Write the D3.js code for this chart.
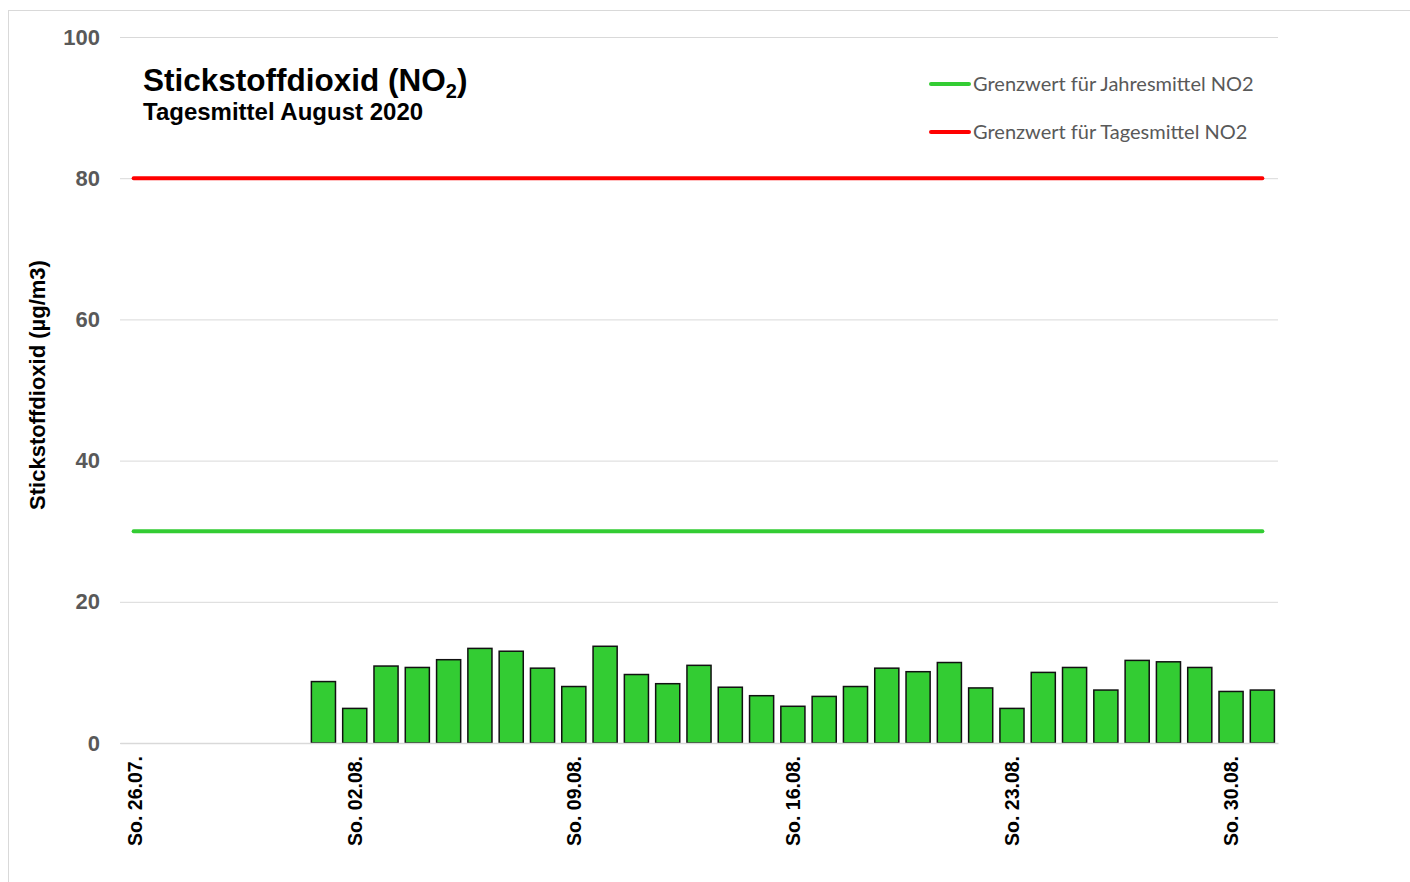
<!DOCTYPE html>
<html>
<head>
<meta charset="utf-8">
<script src="https://cdn.jsdelivr.net/npm/d3@7"></script>
<style>
  body { margin: 0; background: #fff; }
  svg { display: block; }
</style>
</head>
<body>
<svg id="chart" width="1410" height="882"></svg>
<script>
// days shown on the x axis (26.07. - 31.08.)
const days = ['26.07.', '27.07.', '28.07.', '29.07.', '30.07.', '31.07.',
  '01.08.', '02.08.', '03.08.', '04.08.', '05.08.', '06.08.', '07.08.', '08.08.',
  '09.08.', '10.08.', '11.08.', '12.08.', '13.08.', '14.08.', '15.08.', '16.08.',
  '17.08.', '18.08.', '19.08.', '20.08.', '21.08.', '22.08.', '23.08.', '24.08.',
  '25.08.', '26.08.', '27.08.', '28.08.', '29.08.', '30.08.', '31.08.'];
// daily means NO2, July days have no value
const no2 = [null, null, null, null, null, null,
  8.7, 4.9, 10.9, 10.7, 11.8, 13.4, 13.0, 10.6,
  8.0, 13.7, 9.7, 8.4, 11.0, 7.9, 6.7, 5.2,
  6.6, 8.0, 10.6, 10.1, 11.4, 7.8, 4.9, 10.0,
  10.7, 7.5, 11.7, 11.5, 10.7, 7.3, 7.5];
const sundays = ['26.07.', '02.08.', '09.08.', '16.08.', '23.08.', '30.08.'];
const yTicks = [0, 20, 40, 60, 80, 100];
const limits = [
  {name: 'Grenzwert für Jahresmittel NO2', value: 30, color: '#33cc33'},
  {name: 'Grenzwert für Tagesmittel NO2', value: 80, color: '#ff0000'}
];

const margin = {top: 37, right: 132, bottom: 139, left: 120};
const width = 1410 - margin.left - margin.right;
const height = 882 - margin.top - margin.bottom;
const barShare = 0.77;

const svg = d3.select('#chart');

// chart frame (runs past the bottom/right edge of the window)
svg.append('rect')
  .attr('x', 8.5).attr('y', 10.5)
  .attr('width', 1420).attr('height', 900)
  .attr('fill', 'none')
  .attr('stroke', '#d9d9d9');

const g = svg.append('g')
  .attr('transform', `translate(${margin.left}, ${margin.top})`);

const x = d3.scaleBand()
  .domain(days)
  .range([0, width]);

const y = d3.scaleLinear()
  .domain([0, 100])
  .range([height, 0]);

// gridlines + y labels
const yAxis = g.append('g')
  .call(d3.axisLeft(y).tickValues(yTicks).tickSize(-width).tickPadding(20));
yAxis.select('.domain').remove();
yAxis.selectAll('.tick line').attr('stroke', '#d9d9d9');
yAxis.selectAll('.tick text')
  .attr('fill', '#595959')
  .style('font-family', '"Liberation Sans", Arial, sans-serif')
  .style('font-weight', 'bold')
  .style('font-size', '22px');

// bars
const barW = x.bandwidth() * barShare;
g.append('g')
  .selectAll('rect')
  .data(days.map((d, i) => ({day: d, value: no2[i]})).filter(d => d.value != null))
  .join('rect')
    .attr('x', d => x(d.day) + (x.bandwidth() - barW) / 2)
    .attr('y', d => y(d.value))
    .attr('width', barW)
    .attr('height', d => height - y(d.value))
    .attr('fill', '#33cc33')
    .attr('stroke', '#111')
    .attr('stroke-width', 1.5);

// x axis
const xAxis = g.append('g')
  .attr('transform', `translate(0, ${height})`)
  .call(d3.axisBottom(x).tickValues(sundays).tickSize(0).tickFormat(d => 'So. ' + d));
xAxis.select('.domain').attr('stroke', '#d9d9d9').attr('stroke-width', 1.5);
xAxis.selectAll('.tick text')
  .attr('transform', 'rotate(-90)')
  .attr('text-anchor', 'end')
  .attr('x', -13)
  .attr('y', 0)
  .attr('dy', '0.35em')
  .attr('fill', '#000')
  .style('font-family', '"Liberation Sans", Arial, sans-serif')
  .style('font-weight', 'bold')
  .style('font-size', '19.5px');

// limit lines
const xFirst = x(days[0]) + x.bandwidth() / 2;
const xLast = x(days[days.length - 1]) + x.bandwidth() / 2;
g.append('g')
  .selectAll('line')
  .data(limits)
  .join('line')
    .attr('x1', xFirst - 2)
    .attr('x2', xLast)
    .attr('y1', d => y(d.value))
    .attr('y2', d => y(d.value))
    .attr('stroke', d => d.color)
    .attr('stroke-width', 4)
    .attr('stroke-linecap', 'round');

// legend
const legend = svg.append('g')
  .selectAll('g')
  .data(limits)
  .join('g')
    .attr('transform', (d, i) => `translate(931, ${84 + i * 48})`);
legend.append('line')
  .attr('x1', 0).attr('x2', 38)
  .attr('stroke', d => d.color)
  .attr('stroke-width', 4)
  .attr('stroke-linecap', 'round');
legend.append('text')
  .attr('x', 42)
  .attr('dy', '0.35em')
  .attr('fill', '#595959')
  .style('font-family', 'Lato, "Open Sans", sans-serif')
  .style('font-size', '20px')
  .text(d => d.name);

// title
const title = svg.append('text')
  .attr('x', 143).attr('y', 91)
  .style('font-family', '"Liberation Sans", Arial, sans-serif')
  .style('font-weight', 'bold')
  .style('font-size', '31.5px');
title.append('tspan').text('Stickstoffdioxid (NO');
title.append('tspan').attr('dy', 7).style('font-size', '20px').text('2');
title.append('tspan').attr('dy', -7).text(')');

svg.append('text')
  .attr('x', 143).attr('y', 120)
  .style('font-family', '"Liberation Sans", Arial, sans-serif')
  .style('font-weight', 'bold')
  .style('font-size', '24px')
  .text('Tagesmittel August 2020');

// y axis title
svg.append('text')
  .attr('transform', 'translate(45, 385) rotate(-90)')
  .attr('text-anchor', 'middle')
  .style('font-family', '"Liberation Sans", Arial, sans-serif')
  .style('font-weight', 'bold')
  .style('font-size', '22px')
  .text('Stickstoffdioxid (µg/m3)');
</script>
</body>
</html>
